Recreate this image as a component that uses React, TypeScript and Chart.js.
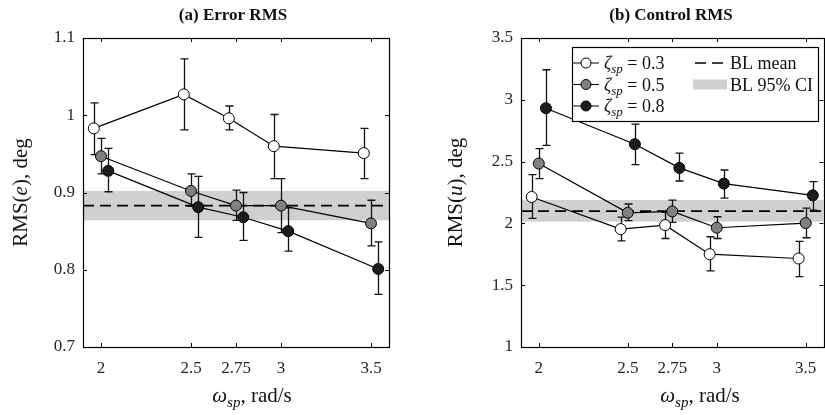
import React, { useEffect, useRef } from 'react';
import { Chart, registerables } from 'chart.js';

Chart.register(...registerables);

// ---------- data ----------
const X_TICKS = [2, 2.5, 2.75, 3, 3.5];
const X_TICK_LABELS = ['2', '2.5', '2.75', '3', '3.5'];
const SERIES_OFFSETS = [-0.04, 0, 0.04];
const ZETA_VALUES = ['0.3', '0.5', '0.8'];

// (a) Error RMS
const ERR_Y_TICKS = [0.7, 0.8, 0.9, 1.0, 1.1];
const ERR_Y_TICK_LABELS = ['0.7', '0.8', '0.9', '1', '1.1'];
const ERR_03_MEAN = [0.983, 1.027, 0.996, 0.960, 0.951];
const ERR_03_LO = [0.949, 0.981, 0.981, 0.918, 0.918];
const ERR_03_HI = [1.016, 1.073, 1.012, 1.001, 0.983];
const ERR_05_MEAN = [0.947, 0.902, 0.883, 0.883, 0.860];
const ERR_05_LO = [0.924, 0.882, 0.864, 0.848, 0.831];
const ERR_05_HI = [0.970, 0.924, 0.903, 0.918, 0.890];
const ERR_08_MEAN = [0.928, 0.881, 0.868, 0.850, 0.801];
const ERR_08_LO = [0.901, 0.842, 0.838, 0.824, 0.768];
const ERR_08_HI = [0.957, 0.921, 0.900, 0.880, 0.836];
const ERR_BL_MEAN = 0.883;
const ERR_BL_CI = [0.864, 0.902];

// (b) Control RMS
const CTL_Y_TICKS = [1, 1.5, 2, 2.5, 3, 3.5];
const CTL_Y_TICK_LABELS = ['1', '1.5', '2', '2.5', '3', '3.5'];
const CTL_03_MEAN = [2.214, 1.954, 1.986, 1.751, 1.716];
const CTL_03_LO = [2.041, 1.859, 1.878, 1.616, 1.570];
const CTL_03_HI = [2.395, 2.051, 2.089, 1.892, 1.854];
const CTL_05_MEAN = [2.484, 2.086, 2.097, 1.965, 2.003];
const CTL_05_LO = [2.362, 2.022, 2.008, 1.878, 1.884];
const CTL_05_HI = [2.605, 2.157, 2.189, 2.054, 2.124];
const CTL_08_MEAN = [2.932, 2.641, 2.449, 2.322, 2.227];
const CTL_08_LO = [2.632, 2.476, 2.343, 2.205, 2.108];
const CTL_08_HI = [3.243, 2.803, 2.568, 2.432, 2.338];
const CTL_BL_MEAN = 2.100;
const CTL_BL_CI = [2.014, 2.189];

// ---------- styling ----------
const SERIF = "'Liberation Serif', 'Times New Roman', serif";
const MARKER_FILLS = ['#ffffff', '#808080', '#1c1c1c'];
const TEXT_COLOR = '#262626';
const BAND_COLOR = '#d0d0d0';
const DASH = [11, 6];

type Run = { text: string; font: string; dy?: number };

function runsWidth(ctx: CanvasRenderingContext2D, runs: Run[]) {
  let w = 0;
  runs.forEach((r) => {
    ctx.font = r.font;
    w += ctx.measureText(r.text).width;
  });
  return w;
}

function drawRuns(ctx: CanvasRenderingContext2D, runs: Run[], x: number, y: number) {
  let cx = x;
  runs.forEach((r) => {
    ctx.font = r.font;
    ctx.fillText(r.text, cx, y + (r.dy || 0));
    cx += ctx.measureText(r.text).width;
  });
}

function zetaRuns(v: string, size: number): Run[] {
  return [
    { text: 'ζ', font: `italic ${size}px ${SERIF}` },
    { text: 'sp', font: `italic ${Math.round(size * 0.7)}px ${SERIF}`, dy: 4 },
    { text: ' = ' + v, font: `${size}px ${SERIF}` },
  ];
}

const decoPlugin = {
  id: 'deco',
  beforeDatasetsDraw(chart: any, _args: any, opts: any) {
    const { ctx, chartArea: a, scales } = chart;
    const x = scales.x;
    const y = scales.y;
    ctx.save();
    // BL 95% CI band
    const yt = y.getPixelForValue(opts.ci[1]);
    const yb = y.getPixelForValue(opts.ci[0]);
    ctx.fillStyle = BAND_COLOR;
    ctx.fillRect(a.left, yt, a.right - a.left, yb - yt);
    // BL mean
    const ym = y.getPixelForValue(opts.mean);
    ctx.strokeStyle = '#000';
    ctx.lineWidth = 1.7;
    ctx.setLineDash(DASH);
    ctx.beginPath();
    ctx.moveTo(a.left, ym);
    ctx.lineTo(a.right, ym);
    ctx.stroke();
    ctx.setLineDash([]);
    // error bars
    ctx.lineWidth = 1.3;
    ctx.strokeStyle = '#111';
    opts.series.forEach((s: any, si: number) => {
      s.lo.forEach((lo: number, i: number) => {
        const px = Math.round(x.getPixelForValue(X_TICKS[i] + SERIES_OFFSETS[si])) + 0.5;
        const p1 = y.getPixelForValue(lo);
        const p2 = y.getPixelForValue(s.hi[i]);
        ctx.beginPath();
        ctx.moveTo(px, p1);
        ctx.lineTo(px, p2);
        ctx.moveTo(px - 4, p1);
        ctx.lineTo(px + 4, p1);
        ctx.moveTo(px - 4, p2);
        ctx.lineTo(px + 4, p2);
        ctx.stroke();
      });
    });
    ctx.restore();
  },
  afterDraw(chart: any, _args: any, opts: any) {
    const { ctx, chartArea: a, scales } = chart;
    const x = scales.x;
    const y = scales.y;
    ctx.save();
    // box
    ctx.strokeStyle = '#000';
    ctx.lineWidth = 1.2;
    ctx.strokeRect(Math.round(a.left) + 0.5, Math.round(a.top) + 0.5, Math.round(a.right - a.left), Math.round(a.bottom - a.top));
    // inward ticks
    ctx.lineWidth = 1;
    ctx.beginPath();
    X_TICKS.forEach((t) => {
      const px = Math.round(x.getPixelForValue(t)) + 0.5;
      ctx.moveTo(px, a.bottom);
      ctx.lineTo(px, a.bottom - 4);
      ctx.moveTo(px, a.top);
      ctx.lineTo(px, a.top + 4);
    });
    opts.yTicks.forEach((t: number) => {
      const py = Math.round(y.getPixelForValue(t)) + 0.5;
      ctx.moveTo(a.left, py);
      ctx.lineTo(a.left + 4, py);
      ctx.moveTo(a.right, py);
      ctx.lineTo(a.right - 4, py);
    });
    ctx.stroke();

    ctx.fillStyle = '#111';
    ctx.textBaseline = 'alphabetic';
    // title
    ctx.font = `bold 17px ${SERIF}`;
    ctx.textAlign = 'center';
    ctx.fillText(opts.title, opts.titleX, 20);
    ctx.textAlign = 'left';

    // x label
    const xr: Run[] = [
      { text: 'ω', font: `italic 21px ${SERIF}` },
      { text: 'sp', font: `italic 15px ${SERIF}`, dy: 5 },
      { text: ', rad/s', font: `21px ${SERIF}` },
    ];
    const xw = runsWidth(ctx, xr);
    drawRuns(ctx, xr, opts.xLabelX - xw / 2, 402);

    // y label
    const yr: Run[] = [
      { text: 'RMS(', font: `21px ${SERIF}` },
      { text: opts.yVar, font: `italic 21px ${SERIF}` },
      { text: '), deg', font: `21px ${SERIF}` },
    ];
    const yw = runsWidth(ctx, yr);
    ctx.save();
    ctx.translate(opts.yLabelX, (a.top + a.bottom) / 2);
    ctx.rotate(-Math.PI / 2);
    drawRuns(ctx, yr, -yw / 2, 0);
    ctx.restore();

    // legend
    if (opts.legend) {
      const L = opts.legend;
      ctx.fillStyle = '#fff';
      ctx.fillRect(L.x, L.y, L.w, L.h);
      ctx.strokeStyle = '#000';
      ctx.lineWidth = 1.2;
      ctx.strokeRect(L.x + 0.5, L.y + 0.5, L.w, L.h);
      const rowY = [L.y + 16, L.y + 37.5, L.y + 59];
      ZETA_VALUES.forEach((v, i) => {
        const ry = rowY[i];
        ctx.strokeStyle = '#000';
        ctx.lineWidth = 1;
        ctx.beginPath();
        ctx.moveTo(L.x + 1, ry);
        ctx.lineTo(L.x + 27, ry);
        ctx.stroke();
        ctx.beginPath();
        ctx.arc(L.x + 14, ry, 5, 0, Math.PI * 2);
        ctx.fillStyle = MARKER_FILLS[i];
        ctx.fill();
        ctx.stroke();
        ctx.fillStyle = '#111';
        drawRuns(ctx, zetaRuns(v, 18), L.x + 32, ry + 6);
      });
      // BL mean
      ctx.strokeStyle = '#000';
      ctx.lineWidth = 1.7;
      ctx.setLineDash(DASH);
      ctx.beginPath();
      ctx.moveTo(L.x + 123, rowY[0]);
      ctx.lineTo(L.x + 151, rowY[0]);
      ctx.stroke();
      ctx.setLineDash([]);
      ctx.fillStyle = '#111';
      ctx.font = `18px ${SERIF}`;
      ctx.fillText('BL mean', L.x + 158, rowY[0] + 6);
      ctx.fillStyle = BAND_COLOR;
      ctx.fillRect(L.x + 121, rowY[1] - 5, 34, 10);
      ctx.fillStyle = '#111';
      ctx.fillText('BL 95% CI', L.x + 158, rowY[1] + 6);
    }
    ctx.restore();
  },
};

function buildDatasets(series: { mean: number[] }[]) {
  return series.map((s, si) => ({
    label: 'ζsp = ' + ZETA_VALUES[si],
    data: s.mean.map((v, i) => ({ x: X_TICKS[i] + SERIES_OFFSETS[si], y: v })),
    borderColor: '#000',
    borderWidth: 1.2,
    backgroundColor: MARKER_FILLS[si],
    pointBackgroundColor: MARKER_FILLS[si],
    pointBorderColor: '#000',
    pointBorderWidth: 1,
    pointRadius: 5.5,
    tension: 0,
    fill: false,
    order: 3 - si,
  }));
}

type PanelProps = {
  left: number;
  width: number;
  yAxisWidth: number;
  rightPad: number;
  yMin: number;
  yMax: number;
  yTicks: number[];
  yTickLabels: string[];
  series: { mean: number[]; lo: number[]; hi: number[] }[];
  blMean: number;
  blCi: number[];
  title: string;
  titleX: number;
  xLabelX: number;
  yLabelX: number;
  yVar: string;
  legend?: { x: number; y: number; w: number; h: number };
};

function Panel(p: PanelProps) {
  const ref = useRef<HTMLCanvasElement>(null);
  useEffect(() => {
    const canvas = ref.current!;
    const chart = new Chart(canvas, {
      type: 'line',
      data: { datasets: buildDatasets(p.series) as any },
      options: {
        animation: false,
        responsive: false,
        devicePixelRatio: 1,
        layout: { padding: { left: 0, right: p.rightPad, top: 38, bottom: 0 } },
        plugins: {
          legend: { display: false },
          tooltip: { enabled: false },
          title: { display: false },
          deco: {
            ci: p.blCi,
            mean: p.blMean,
            series: p.series,
            yTicks: p.yTicks,
            title: p.title,
            titleX: p.titleX,
            xLabelX: p.xLabelX,
            yLabelX: p.yLabelX,
            yVar: p.yVar,
            legend: p.legend,
          },
        } as any,
        scales: {
          x: {
            type: 'linear',
            min: 1.9,
            max: 3.6,
            grid: { display: false, drawTicks: false, tickLength: 0 },
            border: { display: false },
            afterBuildTicks: (axis: any) => {
              axis.ticks = X_TICKS.map((v) => ({ value: v }));
            },
            afterFit: (axis: any) => {
              axis.height = 68;
            },
            ticks: {
              autoSkip: false,
              maxRotation: 0,
              padding: 11,
              color: TEXT_COLOR,
              font: { family: SERIF, size: 17 },
              callback: (v: any) => {
                const i = X_TICKS.indexOf(Number(v));
                return i >= 0 ? X_TICK_LABELS[i] : '';
              },
            },
          },
          y: {
            type: 'linear',
            min: p.yMin,
            max: p.yMax,
            grid: { display: false, drawTicks: false, tickLength: 0 },
            border: { display: false },
            afterBuildTicks: (axis: any) => {
              axis.ticks = p.yTicks.map((v) => ({ value: v }));
            },
            afterFit: (axis: any) => {
              axis.width = p.yAxisWidth;
            },
            ticks: {
              autoSkip: false,
              padding: 8,
              color: TEXT_COLOR,
              font: { family: SERIF, size: 17 },
              callback: (v: any) => {
                const i = p.yTicks.findIndex((t) => Math.abs(t - Number(v)) < 1e-9);
                return i >= 0 ? p.yTickLabels[i] : '';
              },
            },
          },
        },
      },
      plugins: [decoPlugin as any],
    });
    return () => chart.destroy();
  }, []);
  return (
    <canvas
      ref={ref}
      width={p.width}
      height={415}
      style={{ position: 'absolute', left: p.left, top: 0, width: p.width, height: 415 }}
    />
  );
}

export default function App() {
  return (
    <div
      style={{
        position: 'absolute',
        left: 0,
        top: 0,
        width: 825,
        height: 415,
        overflow: 'hidden',
        background: '#fff',
      }}
    >
      <Panel
        left={0}
        width={410}
        yAxisWidth={83}
        rightPad={21}
        yMin={0.7}
        yMax={1.1}
        yTicks={ERR_Y_TICKS}
        yTickLabels={ERR_Y_TICK_LABELS}
        series={[
          { mean: ERR_03_MEAN, lo: ERR_03_LO, hi: ERR_03_HI },
          { mean: ERR_05_MEAN, lo: ERR_05_LO, hi: ERR_05_HI },
          { mean: ERR_08_MEAN, lo: ERR_08_LO, hi: ERR_08_HI },
        ]}
        blMean={ERR_BL_MEAN}
        blCi={ERR_BL_CI}
        title="(a) Error RMS"
        titleX={233}
        xLabelX={252}
        yLabelX={27}
        yVar="e"
      />
      <Panel
        left={410}
        width={420}
        yAxisWidth={111}
        rightPad={3}
        yMin={1}
        yMax={3.5}
        yTicks={CTL_Y_TICKS}
        yTickLabels={CTL_Y_TICK_LABELS}
        series={[
          { mean: CTL_03_MEAN, lo: CTL_03_LO, hi: CTL_03_HI },
          { mean: CTL_05_MEAN, lo: CTL_05_LO, hi: CTL_05_HI },
          { mean: CTL_08_MEAN, lo: CTL_08_LO, hi: CTL_08_HI },
        ]}
        blMean={CTL_BL_MEAN}
        blCi={CTL_BL_CI}
        title="(b) Control RMS"
        titleX={261}
        xLabelX={290}
        yLabelX={52}
        yVar="u"
        legend={{ x: 162, y: 47, w: 246, h: 74 }}
      />
    </div>
  );
}
